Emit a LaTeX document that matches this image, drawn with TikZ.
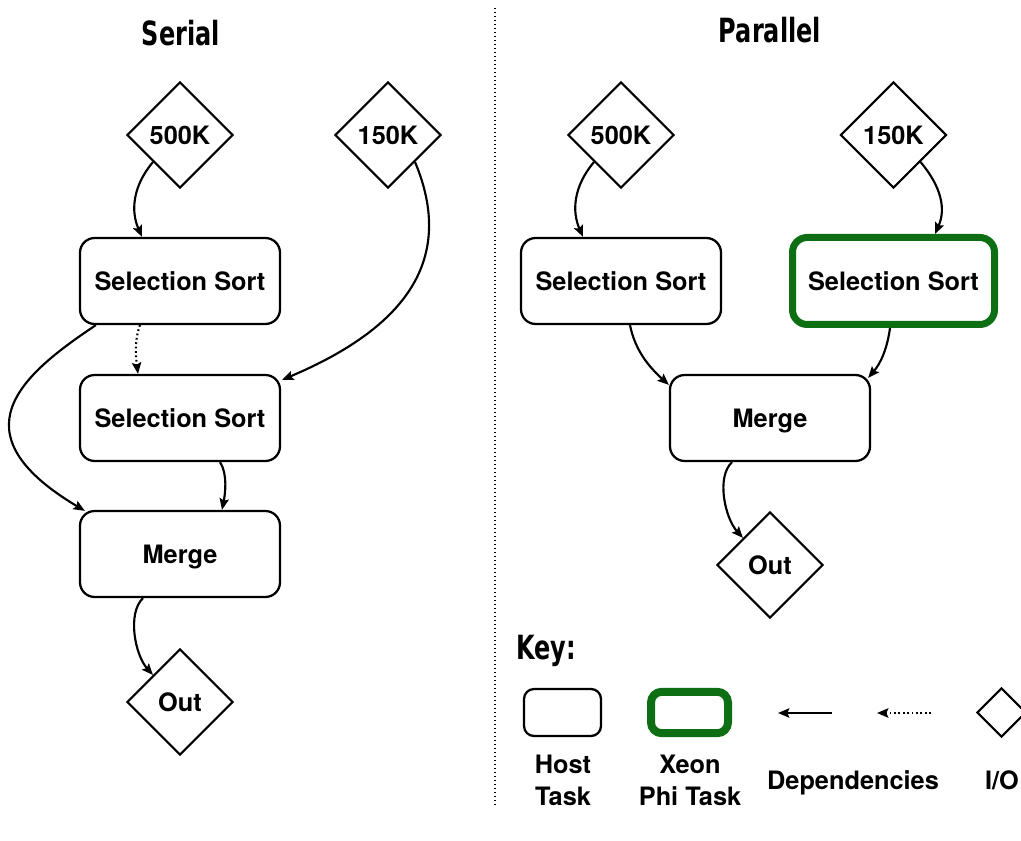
\documentclass[tikz,border=0pt]{standalone}
\usepackage{fontspec}
\setmainfont{TeX Gyre Heros}
\newfontfamily\titlefont{DejaVu Sans}[FakeStretch=0.72]
\usetikzlibrary{shapes.geometric,arrows.meta,calc}
\definecolor{phigreen}{RGB}{14,110,20}
\tikzset{
  lbl/.style={font=\bfseries\fontsize{19}{24}\selectfont},
  capcentred/.style={text height=13.7pt, text depth=0pt},
  heading/.style={font=\titlefont\bfseries\fontsize{25}{28}\selectfont, inner sep=0},
  task/.style={lbl, capcentred, draw, line width=1.7pt, rounded corners=11pt,
    minimum width=150pt, minimum height=64.5pt, inner sep=0},
  xeontask/.style={task, draw=phigreen, line width=5.25pt,
    minimum width=151.5pt, minimum height=65.25pt},
  io/.style={lbl, capcentred, diamond, aspect=1, draw, line width=1.6pt,
    minimum width=79.5pt, minimum height=79.5pt, inner sep=0},
  dep/.style={line width=1.6pt, -{Stealth[length=8.5pt,width=7pt,inset=1.5pt]}},
  weakdep/.style={dep, dash pattern=on 1.3pt off 2pt},
}
\begin{document}
\begin{tikzpicture}[x=0.75pt, y=-0.75pt]
\useasboundingbox (0,0) rectangle (1021,841);

% divider between the two schedules
\coordinate (divtop) at (495,8);
\coordinate (divbot) at (495,806);
\draw[line width=1pt, dash pattern=on 1pt off 2pt] (divtop) -- (divbot);

% ---------- serial schedule ----------
\node[heading] (tser) at (181,33) {Serial};
\node[io] (sa) at (180,135) {500K};
\node[io] (sb) at (388,135) {150K};
\node[task] (ss1) at (180,281) {Selection Sort};
\node[task] (ss2) at (180,418) {Selection Sort};
\node[task] (sm) at (180,554) {Merge};
\node[io] (so) at (180,702) {Out};

\draw[dep] (sa.south west) .. controls +(-21,25) and +(-11,-25) .. ($(ss1.north)+(-38,0)$);
\draw[dep] (sb.south east) .. controls +(41,98) and +(123,-52) .. ($(ss2.north east)+(1,6)$);
\draw[weakdep] ($(ss1.south)+(-40,0)$) .. controls +(-6,16) and +(-2,-16) .. ($(ss2.north)+(-42,0)$);
\draw[dep] ($(ss1.south west)+(17,0)$) .. controls +(-75,50) and +(-131,-78) .. ($(sm.north west)+(6,1)$);
\draw[dep] ($(ss2.south)+(40,0)$) .. controls +(8,12) and +(3,-15) .. ($(sm.north)+(42,0)$);
\draw[dep] ($(sm.south)+(-37,0)$) .. controls +(-16,15) and +(-18,-20) .. (so.north west);

% ---------- parallel schedule ----------
\node[heading] (tpar) at (770,30) {Parallel};
\node[io] (pa) at (621,135) {500K};
\node[io] (pb) at (893.5,135) {150K};
\node[task] (ph) at (621,281) {Selection Sort};
\node[xeontask] (px) at (893.5,281) {Selection Sort};
\node[task] (pm) at (770,418) {Merge};
\node[io] (po) at (770,565) {Out};

\draw[dep] (pa.south west) .. controls +(-21,25) and +(-11,-25) .. ($(ph.north)+(-38,0)$);
\draw[dep] (pb.south east) .. controls +(21,25) and +(11,-25) .. ($(px.north)+(41.5,0)$);
\draw[dep] ($(ph.south)+(9,0)$) .. controls +(5,25) and +(-20,-18) .. ($(pm.north west)+(0,11)$);
\draw[dep] ($(px.south)+(-3.5,0)$) .. controls +(-3,22) and +(12,-14) .. ($(pm.north east)+(-3,4)$);
\draw[dep] ($(pm.south)+(-38,0)$) .. controls +(-16,15) and +(-18,-20) .. (po.north west);

% ---------- key ----------
\node[heading, anchor=west] (tkey) at (516,651) {Key:};
\node[task, minimum width=57.75pt, minimum height=35.25pt, rounded corners=7.5pt] (khost) at (562.5,712.5) {};
\node[xeontask, line width=6pt, minimum width=57.75pt, minimum height=31pt, rounded corners=8pt] (kxeon) at (689.5,712.5) {};
\coordinate (kd1s) at (832,713);
\coordinate (kd1e) at (778,713);
\coordinate (kd2s) at (931,713);
\coordinate (kd2e) at (877,713);
\draw[dep] (kd1s) -- (kd1e);
\draw[weakdep] (kd2s) -- (kd2e);
\node[io, minimum width=36.75pt, minimum height=36.75pt] (kio) at (1001.5,712.5) {};

\node[lbl, align=center] (lhost) at (563,780) {Host\\Task};
\node[lbl, align=center] (lxeon) at (690,780) {Xeon\\Phi Task};
\node[lbl, capcentred] (ldep) at (853,780) {Dependencies};
\node[lbl, capcentred] (lio) at (1002,780) {I/O};
\end{tikzpicture}
\end{document}
